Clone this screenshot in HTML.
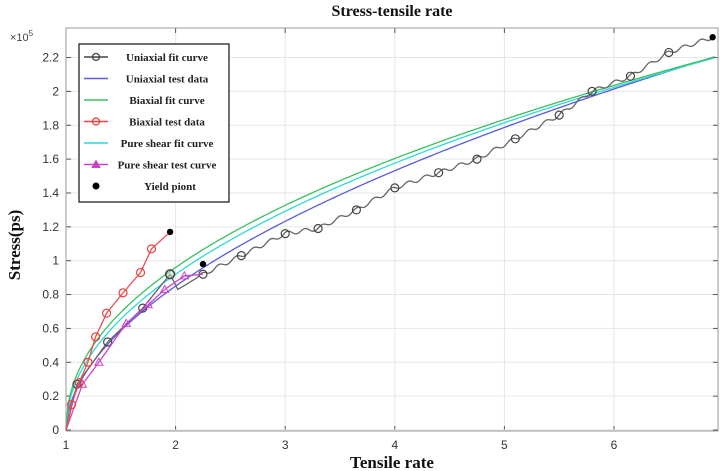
<!DOCTYPE html>
<html><head><meta charset="utf-8"><style>
html,body{margin:0;padding:0;background:#fff;width:720px;height:471px;overflow:hidden}
</style></head><body>
<svg id="s" width="720" height="471" xmlns="http://www.w3.org/2000/svg" font-family="Liberation Sans, sans-serif">
<rect width="720" height="471" fill="#fff"/>
<text x="392" y="16" text-anchor="middle" font-family="Liberation Serif, serif" font-weight="bold" font-size="16" fill="#111">Stress-tensile rate</text>
<text x="392" y="468" text-anchor="middle" font-family="Liberation Serif, serif" font-weight="bold" font-size="17" fill="#111">Tensile rate</text>
<text transform="translate(20,245) rotate(-90)" text-anchor="middle" font-family="Liberation Serif, serif" font-weight="bold" font-size="17" fill="#111">Stress(ps)</text>
<text x="10" y="41" font-size="11" fill="#444">×10<tspan dy="-5" font-size="8">5</tspan></text>
<g id="g"></g>
</svg>
<script>
const g=document.getElementById('g');
const X=x=>66+(x-1)*109.6, Y=y=>430-y*169.3;
let h='';
const L=66,R=718,T=28,B=431;
for(let i=1;i<=6;i++){h+=`<line x1="${X(i)}" y1="${T}" x2="${X(i)}" y2="${B}" stroke="#e6e6e6"/>`;
h+=`<text x="${X(i)}" y="449" text-anchor="middle" font-size="12" fill="#333">${i}</text>`;
h+=`<line x1="${X(i)}" y1="${B}" x2="${X(i)}" y2="${B-5}" stroke="#555"/><line x1="${X(i)}" y1="${T}" x2="${X(i)}" y2="${T+5}" stroke="#555"/>`;}
for(let k=0;k<=11;k++){let v=k*0.2,y=Y(v);let lab=k==0?'0':(Math.round(v*10)/10).toString();
h+=`<line x1="${L}" y1="${y}" x2="${R}" y2="${y}" stroke="#e6e6e6"/>`;
h+=`<text x="59" y="${y+4}" text-anchor="end" font-size="12" fill="#333">${lab}</text>`;
h+=`<line x1="${L}" y1="${y}" x2="${L+5}" y2="${y}" stroke="#555"/><line x1="${R}" y1="${y}" x2="${R-5}" y2="${y}" stroke="#555"/>`;}
h+=`<rect x="${L}" y="${T}" width="${R-L}" height="${B-T}" fill="none" stroke="#999"/>`;
function fit(c,p,col){let pts=[];for(let x=1;x<=6.92;x+=0.02)pts.push(X(x)+','+Y(c*Math.pow(x-1,p)));return `<polyline points="${pts.join(' ')}" fill="none" stroke="${col}" stroke-width="1.3"/>`;}
h+=fit(0.85,0.536,'#5a5ae0');h+=fit(0.92,0.49,'#30d8d8');h+=fit(0.96,0.467,'#3cc060');
const bk=[[1,0],[1.1,0.27],[1.38,0.52],[1.7,0.72],[1.95,0.92],[2.02,0.83],[2.25,0.92],[2.6,1.03],[3,1.16],[3.3,1.19],[3.65,1.3],[4,1.43],[4.4,1.52],[4.75,1.6],[5.1,1.72],[5.5,1.86],[5.8,2.0],[6.15,2.09],[6.5,2.23],[6.9,2.32]];
let pts=[];for(let i=0;i<bk.length-1;i++){const [x0,y0]=bk[i],[x1,y1]=bk[i+1];for(let t=0;t<1;t+=0.05){let x=x0+(x1-x0)*t,y=y0+(y1-y0)*t;let w=x>2.2?0.012*Math.sin(x*40):0;pts.push(X(x)+','+Y(y+w));}}
pts.push(X(6.9)+','+Y(2.32));
h+=`<polyline points="${pts.join(' ')}" fill="none" stroke="#666" stroke-width="1.3"/>`;
bk.slice(1,19).forEach(([x,y],i)=>{if(i!=4)h+=`<circle cx="${X(x)}" cy="${Y(y)}" r="4" fill="none" stroke="#444" stroke-width="1.2"/>`;});
const mg=[[1,0],[1.15,0.27],[1.3,0.4],[1.55,0.63],[1.75,0.74],[1.9,0.83],[2.08,0.91],[2.25,0.92]];
h+=`<polyline points="${mg.map(p=>X(p[0])+','+Y(p[1])).join(' ')}" fill="none" stroke="#cc44cc" stroke-width="1.3"/>`;
mg.slice(1,7).forEach(([x,y])=>{h+=`<polygon points="${X(x)},${Y(y)-4} ${X(x)-4},${Y(y)+3} ${X(x)+4},${Y(y)+3}" fill="none" stroke="#cc44cc"/>`;});
const rd=[[1,0],[1.05,0.15],[1.12,0.28],[1.2,0.4],[1.27,0.55],[1.37,0.69],[1.52,0.81],[1.68,0.93],[1.78,1.07],[1.95,1.17]];
h+=`<polyline points="${rd.map(p=>X(p[0])+','+Y(p[1])).join(' ')}" fill="none" stroke="#e85050" stroke-width="1.3"/>`;
rd.slice(1,9).forEach(([x,y])=>{h+=`<circle cx="${X(x)}" cy="${Y(y)}" r="4" fill="none" stroke="#e84040" stroke-width="1.2"/>`;});
h+=`<circle cx="${X(1.95)}" cy="${Y(0.92)}" r="4.5" fill="#bde0bd" fill-opacity=".4" stroke="#444" stroke-width="1.3"/>`;
[[1.95,1.17],[2.25,0.98],[6.9,2.32]].forEach(([x,y])=>h+=`<circle cx="${X(x)}" cy="${Y(y)}" r="3.2" fill="#000"/>`);
h+=`<rect x="79" y="44" width="150" height="158" fill="#fff" stroke="#222" stroke-width="1.3"/>`;
const lg=[['Uniaxial fit curve','#444','o'],['Uniaxial test data','#5a5ae0',''],['Biaxial  fit curve','#3cc060',''],['Biaxial test data','#e84040','o'],['Pure shear fit curve','#30d8d8',''],['Pure shear test curve','#cc44cc','t'],['Yield piont','#000','d']];
lg.forEach(([t,c,m],i)=>{let y=57+i*21.5;
if(m!='d')h+=`<line x1="84" y1="${y}" x2="108" y2="${y}" stroke="${c}" stroke-width="1.5"/>`;
if(m=='o')h+=`<circle cx="96" cy="${y}" r="3.5" fill="none" stroke="${c}" stroke-width="1.3"/>`;
if(m=='t')h+=`<polygon points="96,${y-4} 92,${y+3} 100,${y+3}" fill="#cc44cc" stroke="${c}"/>`;
if(m=='d')h+=`<circle cx="96" cy="${y}" r="3.5" fill="#000"/>`;
h+=`<text x="${m=='d'?170:167}" y="${y+4}" text-anchor="middle" font-family="Liberation Serif, serif" font-weight="bold" font-size="11" fill="#222">${t}</text>`;});
g.innerHTML=h;
</script>
</body></html>
